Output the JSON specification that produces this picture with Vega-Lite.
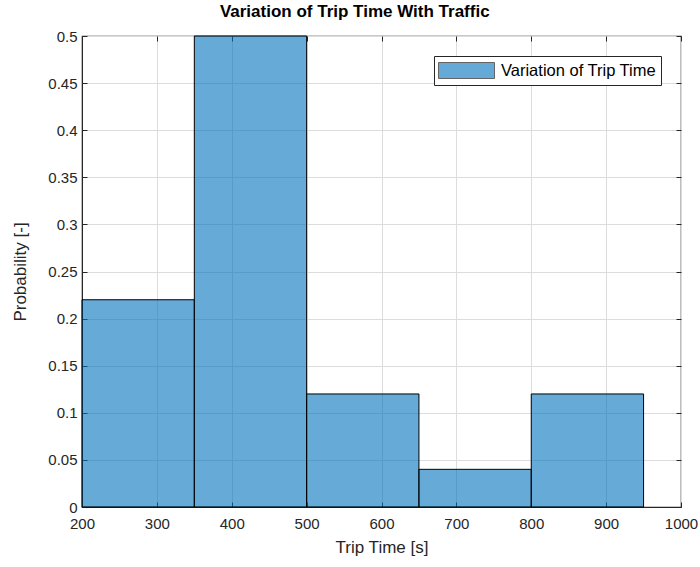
{
  "$schema": "https://vega.github.io/schema/vega-lite/v6.json",
  "autosize": "none",
  "width": 599,
  "height": 471,
  "padding": {"left": 82, "top": 36, "right": 19, "bottom": 60},
  "background": "white",
  "title": {
    "text": "Variation of Trip Time With Traffic",
    "font": "Liberation Sans",
    "fontSize": 17,
    "fontWeight": "bold",
    "color": "#000000",
    "frame": "bounds",
    "offset": 8
  },
  "config": {
    "font": "Liberation Sans",
    "view": {"stroke": "#262626", "strokeWidth": 1.2}
  },
  "data": {
    "values": [
      {"start": 200, "end": 350, "p": 0.22, "series": "Variation of Trip Time"},
      {"start": 350, "end": 500, "p": 0.5, "series": "Variation of Trip Time"},
      {"start": 500, "end": 650, "p": 0.12, "series": "Variation of Trip Time"},
      {"start": 650, "end": 800, "p": 0.04, "series": "Variation of Trip Time"},
      {"start": 800, "end": 950, "p": 0.12, "series": "Variation of Trip Time"}
    ]
  },
  "layer": [
    {
      "mark": {"type": "bar", "stroke": "#000000", "strokeWidth": 1, "fillOpacity": 0.6},
      "encoding": {
        "x": {
          "field": "start",
          "type": "quantitative",
          "scale": {"domain": [200, 1000], "nice": false, "zero": false},
          "axis": {
            "orient": "bottom",
            "title": "Trip Time [s]",
            "values": [200, 300, 400, 500, 600, 700, 800, 900, 1000],
            "format": "d",
            "labelFlush": false,
            "grid": true,
            "gridColor": "#dcdcdc",
            "domainColor": "#262626",
            "tickColor": "#262626",
            "tickSize": -5,
            "labelPadding": 14,
            "labelFontSize": 15,
            "labelColor": "#262626",
            "titleFontSize": 17,
            "titleFontWeight": "normal",
            "titleColor": "#262626",
            "titlePadding": 8
          }
        },
        "x2": {"field": "end"},
        "y": {
          "field": "p",
          "type": "quantitative",
          "scale": {"domain": [0, 0.5], "nice": false},
          "axis": {
            "orient": "left",
            "title": "Probability [-]",
            "values": [0, 0.05, 0.1, 0.15, 0.2, 0.25, 0.3, 0.35, 0.4, 0.45, 0.5],
            "format": "~g",
            "labelFlush": false,
            "grid": true,
            "gridColor": "#dcdcdc",
            "domainColor": "#262626",
            "tickColor": "#262626",
            "tickSize": -5,
            "labelPadding": 10,
            "labelFontSize": 15,
            "labelColor": "#262626",
            "titleFontSize": 17,
            "titleFontWeight": "normal",
            "titleColor": "#262626",
            "titlePadding": 18
          }
        },
        "y2": {"datum": 0},
        "color": {
          "field": "series",
          "type": "nominal",
          "scale": {"range": ["#0072BD"]},
          "legend": {
            "title": null,
            "orient": "top-right",
            "offset": 20,
            "fillColor": "white",
            "strokeColor": "#262626",
            "padding": 4,
            "symbolType": "M-2.8,-0.8H2.8V0.8H-2.8Z",
            "symbolSize": 400,
            "symbolOffset": 18,
            "symbolOpacity": 0.6,
            "symbolStrokeColor": "#000000",
            "symbolStrokeWidth": 1,
            "labelFontSize": 16.5,
            "labelColor": "#000000",
            "labelOffset": 24
          }
        }
      }
    },
    {
      "mark": {"type": "rule", "opacity": 0},
      "encoding": {
        "x": {
          "field": "start",
          "type": "quantitative",
          "axis": {
            "orient": "top",
            "title": null,
            "labels": false,
            "grid": false,
            "domain": false,
            "values": [200, 300, 400, 500, 600, 700, 800, 900, 1000],
            "tickColor": "#262626",
            "tickSize": -5
          }
        },
        "y": {
          "field": "p",
          "type": "quantitative",
          "axis": {
            "orient": "right",
            "title": null,
            "labels": false,
            "grid": false,
            "domain": false,
            "values": [0, 0.05, 0.1, 0.15, 0.2, 0.25, 0.3, 0.35, 0.4, 0.45, 0.5],
            "tickColor": "#262626",
            "tickSize": -5
          }
        }
      }
    }
  ],
  "resolve": {"axis": {"x": "independent", "y": "independent"}}
}
